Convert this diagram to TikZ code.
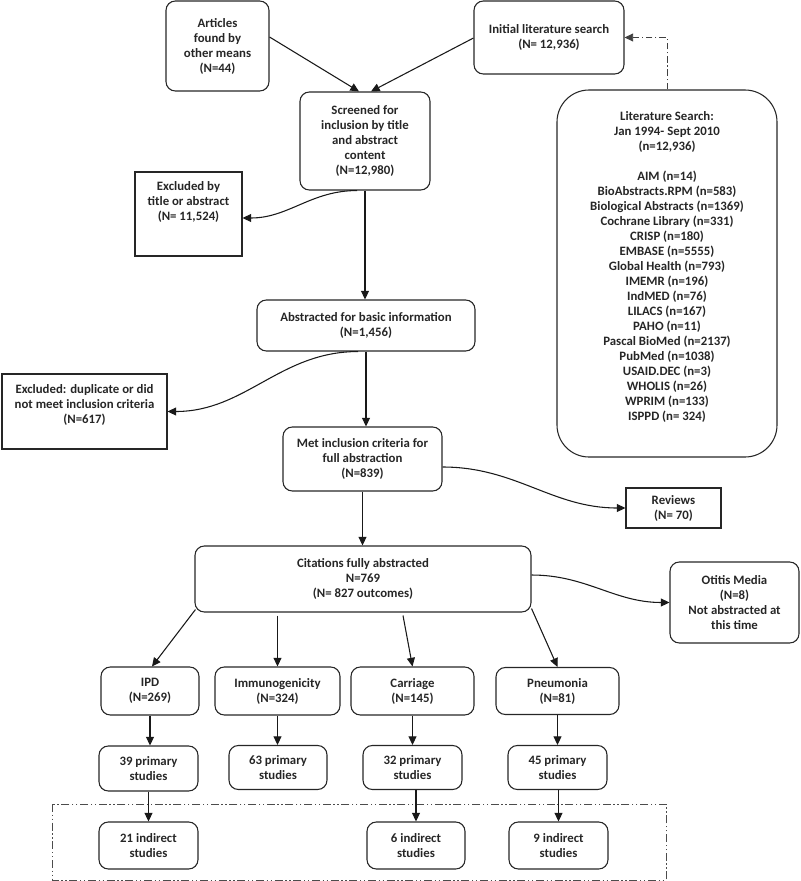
\documentclass[tikz,border=0pt]{standalone}
\usepackage{fontspec}
\setmainfont{Carlito}
\usetikzlibrary{arrows.meta,calc}
\begin{document}
\begin{tikzpicture}[x=0.75pt,y=-0.75pt,
  every node/.style={font=\bfseries\fontsize{9.6}{11.25}\selectfont, text=black!85, align=center, inner sep=0pt},
  sz/.style 2 args={minimum width=#1*0.75pt, minimum height=#2*0.75pt},
  rbox/.style={draw=black!85, line width=0.8pt, rounded corners=7pt},
  sbox/.style={draw=black!85, line width=0.8pt},
  bigbox/.style={draw=black!85, line width=0.8pt, rounded corners=24pt},
  arr/.style={draw=black!90, line width=0.8pt, -{Triangle[length=6.5pt,width=6pt]}},
  dashdot/.style={draw=black!75, line width=0.7pt, dash pattern=on 5pt off 2pt on 1pt off 2pt},
  dashdotdot/.style={draw=black!70, line width=0.7pt, dash pattern=on 6pt off 2pt on 1pt off 2pt on 1pt off 2pt}
]
\useasboundingbox (0,0) rectangle (800,881);

% top row
\node[rbox, sz={103}{90}] (art) at (217.5,46) {Articles\\found by\\other means\\(N=44)};
\node[rbox, sz={150}{73}] (init) at (549,37.5) {Initial literature search\\(N= 12,936)};
\node[rbox, sz={130}{98}] (scr) at (365,141) {Screened for\\inclusion by title\\and abstract\\content\\(N=12,980)};

% literature search box
\node[bigbox, sz={220}{367}] (lit) at (667,273.5) {};
\node (littext) at (667,267) {Literature Search:\\Jan 1994- Sept 2010\\(n=12,936)\\ \mbox{}\\
AIM (n=14)\\BioAbstracts.RPM (n=583)\\Biological Abstracts (n=1369)\\Cochrane Library (n=331)\\CRISP (n=180)\\EMBASE (n=5555)\\Global Health (n=793)\\IMEMR (n=196)\\IndMED (n=76)\\LILACS (n=167)\\PAHO (n=11)\\Pascal BioMed (n=2137)\\PubMed (n=1038)\\USAID.DEC (n=3)\\WHOLIS (n=26)\\WPRIM (n=133)\\ISPPD (n= 324)};

% exclusions
\node[sbox, sz={107}{84}] (exc1) at (188.5,214) {};
\node (exc1t) at (188.5,201.5) {Excluded by\\title or abstract\\(N= 11,524)};
\node[rbox, sz={218}{51}] (abs) at (366,325.5) {Abstracted for basic information\\(N=1,456)};
\node[sbox, sz={165}{75}] (exc2) at (84.5,411.5) {};
\node (exc2t) at (84.5,404.5) {Excluded: duplicate or did\\not meet inclusion criteria\\(N=617)};
\node[rbox, sz={159}{64}] (met) at (362.5,459) {Met inclusion criteria for\\full abstraction\\(N=839)};
\node[sbox, sz={95}{40}] (rev) at (673.5,508) {Reviews\\(N= 70)};
\node[rbox, sz={336}{66}] (cit) at (363,579) {Citations fully abstracted\\N=769\\(N= 827 outcomes)};
\node[rbox, sz={129}{81}] (oti) at (734.5,602.5) {Otitis Media\\(N=8)\\Not abstracted at\\this time};

% outcome row
\node[rbox, sz={98}{48}] (ipd) at (150,691) {IPD\\(N=269)};
\node[rbox, sz={125}{48}] (imm) at (277.5,691) {Immunogenicity\\(N=324)};
\node[rbox, sz={123}{48}] (car) at (412.5,691) {Carriage\\(N=145)};
\node[rbox, sz={123}{47}] (pne) at (557.5,691) {Pneumonia\\(N=81)};

% primary row
\node[rbox, sz={99}{45}] (p39) at (148.5,768.5) {39 primary\\studies};
\node[rbox, sz={98}{44}] (p63) at (278,767.5) {63 primary\\studies};
\node[rbox, sz={99}{44}] (p32) at (412.5,767.5) {32 primary\\studies};
\node[rbox, sz={99}{44}] (p45) at (557.5,767.5) {45 primary\\studies};

% indirect row
\node[rbox, sz={99}{47}] (i21) at (148.5,845.5) {21 indirect\\studies};
\node[rbox, sz={98}{47}] (i6) at (416,845.5) {6 indirect\\studies};
\node[rbox, sz={99}{47}] (i9) at (558.5,845.5) {9 indirect\\studies};

% dash-dot-dot frame
\coordinate (fr1) at (52,804);
\coordinate (fr2) at (666,880);
\draw[dashdotdot] (fr1) rectangle (fr2);

% connectors
\draw[arr] ($(art.east)+(0,-9)$) -- ($(scr.north)+(-6,0)$);
\draw[arr] ($(init.west)+(0,0.5)$) -- ($(scr.north)+(6,0)$);
\draw[dashdot, -{Triangle[length=6.5pt,width=6pt]}] (lit.north) |- (init.east);
\draw[arr] ($(scr.south)+(-8,0)$) to[out=180,in=0] ($(exc1.east)+(0,4)$);
\draw[arr] (scr.south) -- (scr.south |- abs.north);
\draw[arr] ($(abs.south)+(-8,0)$) to[out=180,in=0] (exc2.east);
\draw[arr] (abs.south) -- (abs.south |- met.north);
\draw[arr] ($(met.east)+(0,8)$) to[out=0,in=180] (rev.west);
\draw[arr] (met.south) -- (met.south |- cit.north);
\draw[arr] ($(cit.east)+(0,-4)$) to[out=0,in=180] (oti.west);
\draw[arr] ($(cit.south west)+(1,-3)$) -- ($(ipd.north)+(2,0)$);
\draw[arr] ($(imm.north |- cit.south)+(0,3)$) -- (imm.north);
\draw[arr] ($(cit.south)+(40,3)$) -- (car.north);
\draw[arr] ($(cit.south east)+(0,-4)$) -- (pne.north);
\draw[arr] (ipd.south) -- (ipd.south |- p39.north);
\draw[arr] (imm.south) -- (imm.south |- p63.north);
\draw[arr] (car.south) -- (car.south |- p32.north);
\draw[arr] (pne.south) -- (pne.south |- p45.north);
\draw[arr] (p39.south) -- (p39.south |- i21.north);
\draw[arr] (i6.north |- p32.south) -- (i6.north);
\draw[arr] (i9.north |- p45.south) -- (i9.north);
\end{tikzpicture}
\end{document}
